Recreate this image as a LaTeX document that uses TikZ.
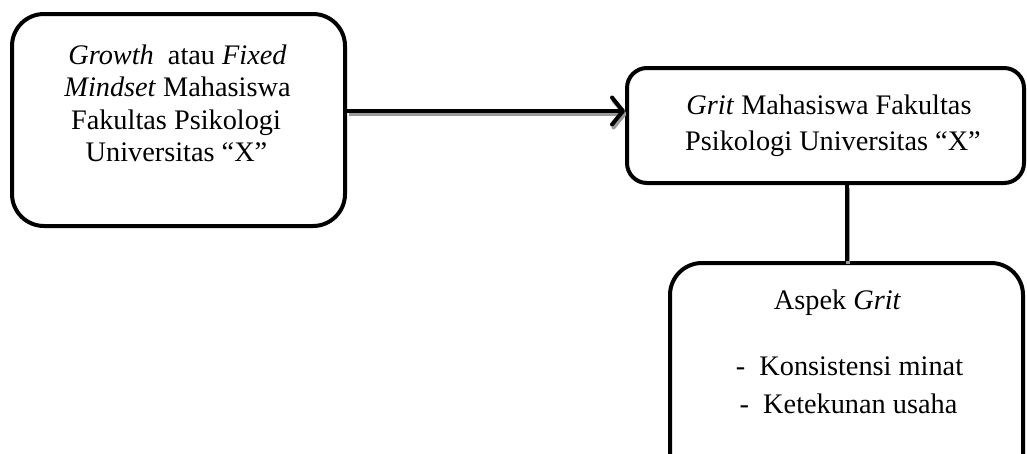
\documentclass[tikz,border=0pt]{standalone}
\usepackage{fontspec}
\setmainfont{Liberation Serif}
\usetikzlibrary{arrows.meta}
\begin{document}
\begin{tikzpicture}[x=1pt,y=-1pt,
  box/.style={draw,line width=4pt,rounded corners=#1,inner sep=0pt},
  txt/.style={inner sep=0pt,anchor=base,font=\fontsize{28.3}{34}\selectfont},
  conn/.style={line width=4pt},
  shadowline/.style={line width=4pt,draw=black!40,transform canvas={shift={(1.5,3)}}},
  tip/.style={-{Straight Barb[length=11pt,width=27pt,line join=round,line cap=round]}}
]
\useasboundingbox (0,0) rectangle (1027,453);
\clip (0,0) rectangle (1027,453);
% boxes
\node[box=32pt,minimum width=333pt,minimum height=212pt] (lb) at (178.5,120) {};
\node[box=20pt,minimum width=397pt,minimum height=115pt] (rb) at (825.5,125.5) {};
\node[box=32pt,minimum width=353pt,minimum height=227pt] (bb) at (846.5,376.5) {};
% texts of the left box
\node[txt] (l1) at (177.5,64) {\textit{Growth}\ \ atau \textit{Fixed}};
\node[txt] (l2) at (177.5,96.5) {\textit{Mindset} Mahasiswa};
\node[txt] (l3) at (176,129) {Fakultas Psikologi};
\node[txt] (l4) at (176.5,161) {Universitas “X”};
% texts of the right box
\node[txt] (r1) at (829,114.5) {\textit{Grit} Mahasiswa Fakultas};
\node[txt] (r2) at (833,150) {Psikologi Universitas “X”};
% texts of the bottom box
\node[txt] (b1) at (837.5,309.5) {Aspek \textit{Grit}};
\node[txt] (b2) at (849.5,375) {-\ \ Konsistensi minat};
\node[txt] (b3) at (848.5,413.5) {-\ \ Ketekunan usaha};
% connectors (shadows first)
\draw[shadowline,tip] ([yshift=9pt]lb.east) -- ([yshift=14.5pt]rb.west);
\draw[conn,tip] ([yshift=9pt]lb.east) -- ([yshift=14.5pt]rb.west);
\draw[shadowline] (bb.north |- rb.south) -- (bb.north);
\draw[conn] (bb.north |- rb.south) -- (bb.north);
\end{tikzpicture}
\end{document}
